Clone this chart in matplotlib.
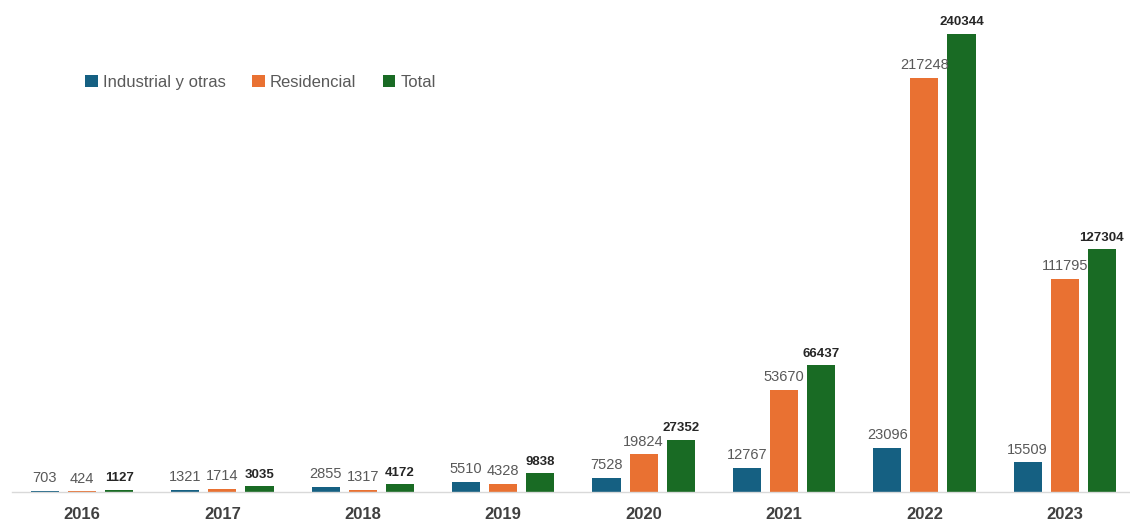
import matplotlib
matplotlib.use("Agg")
import matplotlib.pyplot as plt
import numpy as np

years = ["2016", "2017", "2018", "2019", "2020", "2021", "2022", "2023"]
industrial = [703, 1321, 2855, 5510, 7528, 12767, 23096, 15509]
residencial = [424, 1714, 1317, 4328, 19824, 53670, 217248, 111795]
total = [1127, 3035, 4172, 9838, 27352, 66437, 240344, 127304]

series_names = ["Industrial y otras", "Residencial", "Total"]
colors = ["#156082", "#E97132", "#196B24"]

plt.rcParams['font.family'] = ['Liberation Sans', 'DejaVu Sans']

fig = plt.figure(figsize=(11.3, 5.24), dpi=100)
ax = fig.add_axes([0, 0.061, 1, 0.939])

x = np.arange(len(years))
w = 0.2
off = 0.264
series = [industrial, residencial, total]
for k, (vals, name, c) in enumerate(zip(series, series_names, colors)):
    xs = x + (k - 1) * off
    bars = ax.bar(xs, vals, width=w, color=c, label=name)
    for b, v in zip(bars, vals):
        if k == 2:
            ax.annotate(str(v), (b.get_x() + b.get_width() / 2, v),
                        xytext=(0, 4), textcoords="offset points",
                        ha="center", va="bottom", fontsize=9.5,
                        fontweight="bold", color="#262626")
        else:
            ax.annotate(str(v), (b.get_x() + b.get_width() / 2, v),
                        xytext=(0, 4), textcoords="offset points",
                        ha="center", va="bottom", fontsize=10.5,
                        color="#595959")

ax.set_xlim(-82 / 140.4, (1130 - 82) / 140.4)
ax.set_ylim(0, 240344 * 492 / 458)
ax.set_xticks(x)
ax.set_xticklabels(years, fontsize=12, fontweight="bold", color="#404040")
ax.tick_params(axis="x", length=0, pad=11)
ax.set_yticks([])
for s in ["top", "left", "right"]:
    ax.spines[s].set_visible(False)
ax.spines["bottom"].set_color("#D9D9D9")
ax.spines["bottom"].set_linewidth(1.0)
ax.spines["bottom"].set_bounds((12 - 82) / 140.4, (1130 - 82) / 140.4)

leg = fig.legend(loc="center left", bbox_to_anchor=(0.062, 0.8435),
                 ncol=3, frameon=False, fontsize=12,
                 handlelength=0.75, handleheight=0.75, handletextpad=0.3,
                 columnspacing=1.6, labelcolor="#595959")

fig.savefig("out.png", dpi=100)
